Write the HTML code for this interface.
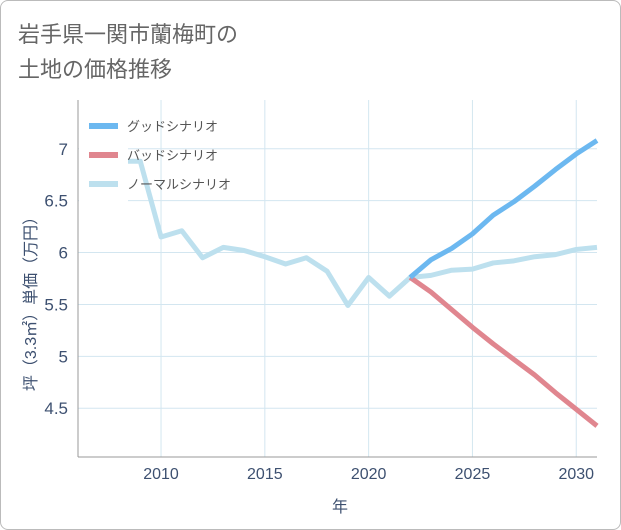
<!DOCTYPE html>
<html><head><meta charset="utf-8"><style>
body{margin:0;background:#fff;font-family:"Liberation Sans","Noto Sans CJK JP",sans-serif}
#wrap{position:relative;width:619px;height:528px;border:1px solid #bbb;border-radius:8px;overflow:hidden}
</style></head><body>
<div id="wrap">
<svg width="621" height="530" id="chart" style="position:absolute;left:-1px;top:-1px">
<text x="18" y="42" font-size="22" fill="#666">岩手県一関市蘭梅町の</text>
<text x="18" y="77" font-size="22" fill="#666">土地の価格推移</text>
<g id="grid"></g><g id="series"></g><g id="axes"></g>
<text x="340" y="512" font-size="16" fill="#3d5070" text-anchor="middle">年</text>
<text transform="translate(36,300) rotate(-90)" font-size="16" fill="#3d5070" text-anchor="middle">坪（3.3㎡）単価（万円）</text>
</svg>
</div>
<script>
const years=[2008,2009,2010,2011,2012,2013,2014,2015,2016,2017,2018,2019,2020,2021,2022,2023,2024,2025,2026,2027,2028,2029,2030,2031];
const normal=[6.88,6.88,6.15,6.21,5.95,6.05,6.02,5.96,5.89,5.95,5.82,5.49,5.76,5.58,5.76,5.78,5.83,5.84,5.9,5.92,5.96,5.98,6.03,6.05];
const futureYears=[2022,2023,2024,2025,2026,2027,2028,2029,2030,2031];
const good=[5.76,5.93,6.04,6.18,6.36,6.49,6.64,6.8,6.95,7.08];
const bad=[5.76,5.62,5.45,5.28,5.12,4.97,4.82,4.65,4.49,4.33];
const xTicks=[2010,2015,2020,2025,2030];
const yTicks=[4.5,5,5.5,6,6.5,7];
const L=78,R=597,T=100,B=457,x0=2006,x1=2031,y0=4.03,y1=7.47;
const X=v=>L+(v-x0)/(x1-x0)*(R-L);
const Y=v=>B-(v-y0)/(y1-y0)*(B-T);
const NS='http://www.w3.org/2000/svg';
function mk(tag,attrs,parent){const e=document.createElementNS(NS,tag);for(const k in attrs)e.setAttribute(k,attrs[k]);parent.appendChild(e);return e;}
const grid=document.getElementById('grid'),ser=document.getElementById('series'),ax=document.getElementById('axes');
xTicks.forEach(t=>{const l=mk('line',{x1:X(t),x2:X(t),y1:T,y2:B,stroke:'#d3e6f0'},grid);


const tx=mk('text',{x:X(t),y:B+22,'font-size':16,fill:'#3d5070','text-anchor':'middle'},ax);tx.textContent=t;

});
yTicks.forEach(t=>{const l=mk('line',{x1:L,x2:R,y1:Y(t),y2:Y(t),stroke:'#d3e6f0'},grid);


const tx=mk('text',{x:L-10,y:Y(t)+6,'font-size':17,fill:'#3d5070','text-anchor':'end'},ax);tx.textContent=t;

});
const al=mk('line',{x1:L,x2:L,y1:T,y2:B,stroke:'#999'},ax);


const bl=mk('line',{x1:L,x2:R,y1:B,y2:B,stroke:'#999'},ax);


function line(xs,ys,color,name){const p=mk('polyline',{points:xs.map((v,i)=>X(v)+','+Y(ys[i])).join(' '),fill:'none',stroke:color,'stroke-width':5,'stroke-linejoin':'round'},ser);

}
line(years,normal,'#bde0ee','normal-scenario-line');
line(futureYears,bad,'#e0868f','bad-scenario-line');
line(futureYears,good,'#6cb8f0','good-scenario-line');
const lg=mk('g',{},ax);


mk('rect',{x:79,y:101,width:49,height:105,fill:'#fff'},lg);
[['グッドシナリオ','#6cb8f0'],['バッドシナリオ','#e0868f'],['ノーマルシナリオ','#bde0ee']].forEach((d,i)=>{
const y=126+i*29;
const s=mk('line',{x1:89,x2:118,y1:y,y2:y,stroke:d[1],'stroke-width':6},lg);


const t=mk('text',{x:127,y:y+5,'font-size':13,fill:'#555'},lg);t.textContent=d[0];

});
</script>
</body></html>
